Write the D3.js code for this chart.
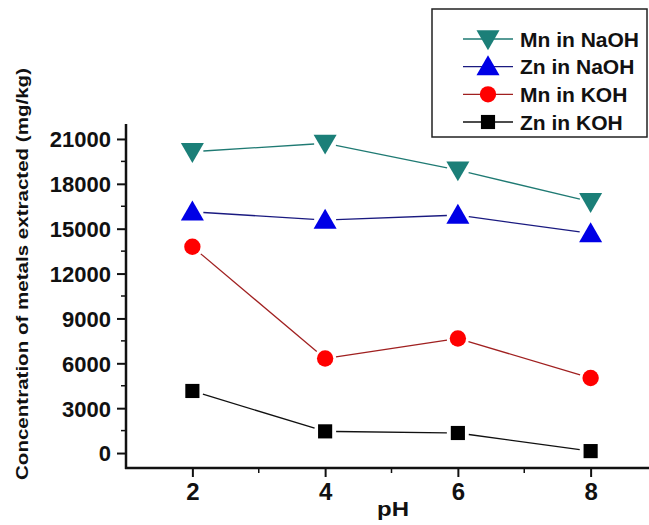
<!DOCTYPE html>
<html><head><meta charset="utf-8">
<script src="https://cdn.jsdelivr.net/npm/d3@7"></script>
<style>
html,body{margin:0;padding:0;background:#fff;}
text{font-family:"Liberation Sans",Arial,sans-serif;font-weight:bold;fill:#111;}
</style></head>
<body>
<svg id="chart" width="649" height="525"></svg>
<script>
const pH = [2, 4, 6, 8];
const mnNaOH = [20150, 20710, 18920, 16800];
const znNaOH = [16130, 15575, 15910, 14680];
const mnKOH  = [13790, 6320, 7660, 5020];
const znKOH  = [4150, 1450, 1340, 130];
const seriesNames = ["Mn in NaOH", "Zn in NaOH", "Mn in KOH", "Zn in KOH"];
const yTicks = [0, 3000, 6000, 9000, 12000, 15000, 18000, 21000];
const xTicks = [2, 4, 6, 8];
const yLabel = "Concentration of metals extracted (mg/kg)";
const xLabel = "pH";

const series = [
  {name: seriesNames[0], values: mnNaOH, color: "#1b7f78", line: "#1f7a73", sym: d3.symbolTriangle, rot: 180, size: 230},
  {name: seriesNames[1], values: znNaOH, color: "#0000e6", line: "#1a1a80", sym: d3.symbolTriangle, rot: 0, size: 230},
  {name: seriesNames[2], values: mnKOH,  color: "#ff0000", line: "#a02020", sym: d3.symbolCircle, rot: 0, size: 210},
  {name: seriesNames[3], values: znKOH,  color: "#000000", line: "#111111", sym: d3.symbolSquare, rot: 0, size: 200}
];

const svg = d3.select("#chart");
const x = d3.scaleLinear().domain([1, 9]).range([126, 657]);
const y = d3.scaleLinear().domain([-1000, 22000]).range([468, 124]);

// axes
const yAxis = d3.axisLeft(y).tickValues(yTicks).tickSize(9).tickPadding(6).tickFormat(d3.format("d"));
const gy = svg.append("g").attr("transform", "translate(126,0)").call(yAxis);
gy.select(".domain").remove();
gy.selectAll(".tick line").attr("stroke", "#111").attr("stroke-width", 2);
gy.selectAll(".tick text").style("font-size", "22px").attr("dy", "0.36em").attr("fill", "#111");
// minor y ticks
const yMinor = d3.range(-1500 + 3000, 22000, 3000);
svg.append("g").selectAll("line").data(yMinor).join("line")
  .attr("x1", 126).attr("x2", 121).attr("y1", d => y(d)).attr("y2", d => y(d))
  .attr("stroke", "#111").attr("stroke-width", 1.5);
svg.append("line").attr("x1", 126).attr("x2", 126).attr("y1", y(22000)).attr("y2", y(-1000) + 1)
  .attr("stroke", "#111").attr("stroke-width", 2.5);

const xAxis = d3.axisBottom(x).tickValues(xTicks).tickSize(9).tickPadding(6).tickFormat(d3.format("d"));
const gx = svg.append("g").attr("transform", "translate(0,468)").call(xAxis);
gx.select(".domain").remove();
gx.selectAll(".tick line").attr("stroke", "#111").attr("stroke-width", 2);
gx.selectAll(".tick text").style("font-size", "24px").attr("fill", "#111");
const xMinor = [3, 5, 7];
svg.append("g").selectAll("line").data(xMinor).join("line")
  .attr("x1", d => x(d)).attr("x2", d => x(d)).attr("y1", 468).attr("y2", 473)
  .attr("stroke", "#111").attr("stroke-width", 1.5);
svg.append("line").attr("x1", 125).attr("x2", 649).attr("y1", 468).attr("y2", 468)
  .attr("stroke", "#111").attr("stroke-width", 2.5);

// axis labels
svg.append("text").attr("x", 393).attr("y", 516).attr("text-anchor", "middle")
  .attr("textLength", 32).attr("lengthAdjust", "spacingAndGlyphs")
  .style("font-size", "20px").text(xLabel);
svg.append("text").attr("transform", "translate(28,274) rotate(-90)").attr("text-anchor", "middle")
  .attr("textLength", 412).attr("lengthAdjust", "spacingAndGlyphs")
  .style("font-size", "17px").text(yLabel);

// lines with gaps near markers
const gap = 11;
series.forEach(s => {
  const pts = s.values.map((v, i) => [x(pH[i]), y(v)]);
  const segs = d3.pairs(pts).map(([a, b]) => {
    const dx = b[0] - a[0], dy = b[1] - a[1], L = Math.hypot(dx, dy);
    const ux = dx / L, uy = dy / L;
    return [a[0] + ux * gap, a[1] + uy * gap, b[0] - ux * gap, b[1] - uy * gap];
  });
  svg.append("g").selectAll("line").data(segs).join("line")
    .attr("x1", d => d[0]).attr("y1", d => d[1]).attr("x2", d => d[2]).attr("y2", d => d[3])
    .attr("stroke", s.line).attr("stroke-width", 1.3);
  svg.append("g").selectAll("path").data(pts).join("path")
    .attr("d", d3.symbol().type(s.sym).size(s.size))
    .attr("transform", d => `translate(${d[0]},${d[1] + (s.sym === d3.symbolTriangle ? (s.rot ? -2 : 2) : 0)}) rotate(${s.rot})`)
    .attr("fill", s.color);
});

// legend
const lg = svg.append("g");
lg.append("rect").attr("x", 432).attr("y", 9).attr("width", 215).attr("height", 128)
  .attr("fill", "#fff").attr("stroke", "#222").attr("stroke-width", 1.5);
const rowY = d3.scalePoint().domain(seriesNames).range([39, 122]);
series.forEach(s => {
  const cy = rowY(s.name);
  lg.append("line").attr("x1", 463).attr("x2", 513).attr("y1", cy).attr("y2", cy)
    .attr("stroke", s.line).attr("stroke-width", 1.3);
  lg.append("path").attr("d", d3.symbol().type(s.sym).size(s.size))
    .attr("transform", `translate(488,${cy + (s.sym === d3.symbolTriangle ? (s.rot ? -2 : 2) : 0)}) rotate(${s.rot})`)
    .attr("fill", s.color);
  lg.append("text").attr("x", 520).attr("y", cy).attr("dy", "0.36em")
    .style("font-size", "21px").text(s.name);
});
</script>
</body></html>
